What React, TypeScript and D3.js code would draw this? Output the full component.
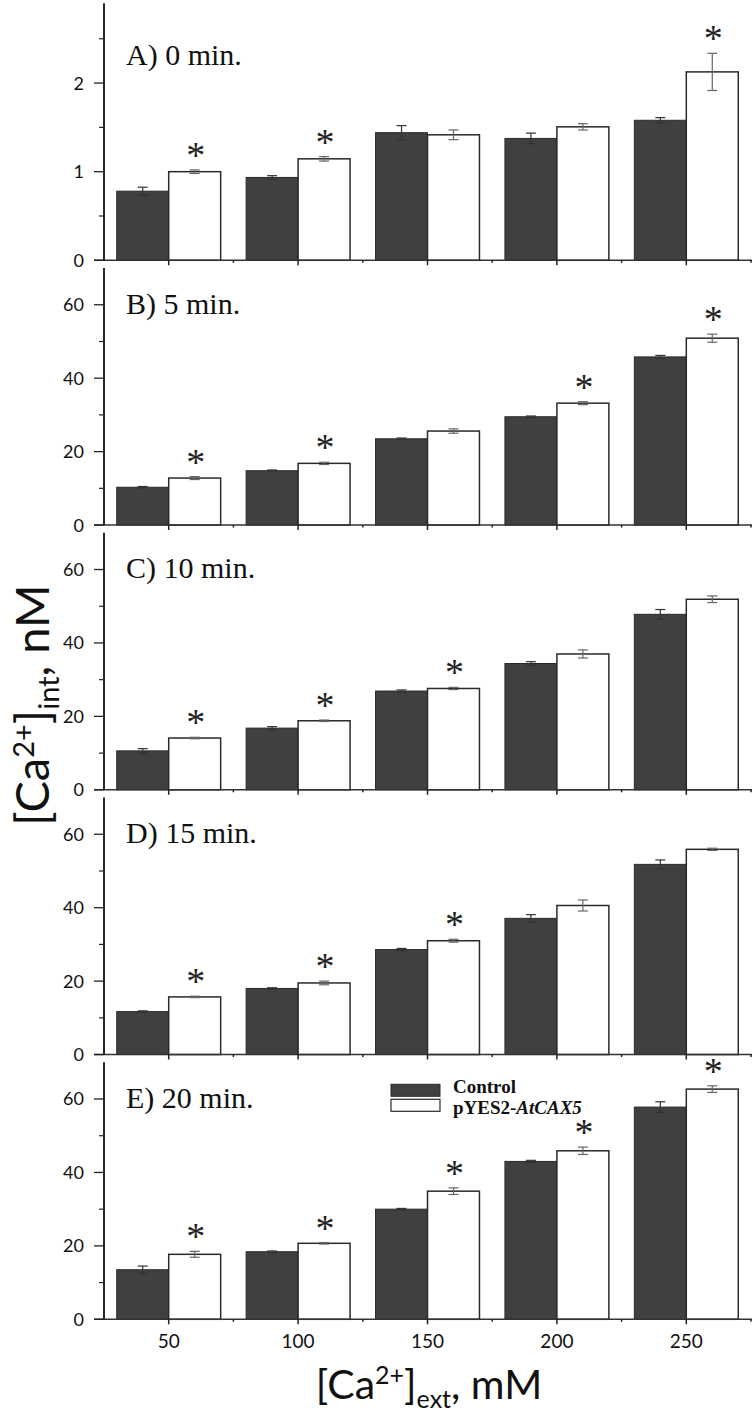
import React from "react";
import * as d3 from "d3";

// ---------- data ----------
const categories = ["50", "100", "150", "200", "250"];
const seriesKeys = ["Control", "pYES2-AtCAX5"];
const panelTitles = ["A) 0 min.", "B) 5 min.", "C) 10 min.", "D) 15 min.", "E) 20 min."];
const panelMax = [2.9, 70, 70, 70, 70];
const majorTicksA = [0, 1, 2];
const minorTicksA = [0.5, 1.5, 2.5];
const majorTicks = [0, 20, 40, 60];
const minorTicks = [10, 30, 50];

const controlA = [0.78, 0.935, 1.44, 1.375, 1.58];
const controlB = [10.3, 14.8, 23.5, 29.5, 45.8];
const controlC = [10.6, 16.8, 26.9, 34.4, 47.8];
const controlD = [11.7, 18.0, 28.6, 37.1, 51.8];
const controlE = [13.5, 18.4, 30.0, 43.0, 57.8];

const caxA = [1.0, 1.145, 1.416, 1.506, 2.126];
const caxB = [12.8, 16.8, 25.6, 33.2, 50.9];
const caxC = [14.1, 18.8, 27.6, 37.0, 51.9];
const caxD = [15.7, 19.5, 31.0, 40.6, 55.9];
const caxE = [17.7, 20.7, 34.9, 45.9, 62.7];

const controlErrA = [0.045, 0.02, 0.08, 0.06, 0.03];
const controlErrB = [0.2, 0.2, 0.2, 0.2, 0.4];
const controlErrC = [0.6, 0.4, 0.3, 0.5, 1.3];
const controlErrD = [0.2, 0.2, 0.3, 1.0, 1.2];
const controlErrE = [1.0, 0.2, 0.2, 0.3, 1.45];

const caxErrA = [0.02, 0.025, 0.055, 0.035, 0.21];
const caxErrB = [0.4, 0.3, 0.6, 0.4, 1.1];
const caxErrC = [0.2, 0.2, 0.3, 1.1, 0.9];
const caxErrD = [0.2, 0.5, 0.4, 1.5, 0.3];
const caxErrE = [0.8, 0.2, 0.9, 1.0, 0.9];

const sigA = [1, 1, 0, 0, 1];
const sigB = [1, 1, 0, 1, 1];
const sigC = [1, 1, 1, 0, 0];
const sigD = [1, 1, 1, 0, 0];
const sigE = [1, 1, 1, 1, 1];

const controls = [controlA, controlB, controlC, controlD, controlE];
const caxs = [caxA, caxB, caxC, caxD, caxE];
const controlErrs = [controlErrA, controlErrB, controlErrC, controlErrD, controlErrE];
const caxErrs = [caxErrA, caxErrB, caxErrC, caxErrD, caxErrE];
const sigs = [sigA, sigB, sigC, sigD, sigE];

// ---------- layout ----------
const W = 756;
const H = 1421;
const axisX = 104;
const axisRight = 751;
const firstBase = 260.3;
const panelStep = 264.75;
const panelH = 257;

const DARK = "#404040";
const SERIF = "'Liberation Serif', 'Times New Roman', serif";
const SANS = "Lato, 'Open Sans', sans-serif";

function Panel({ idx }: { idx: number }) {
  const base = firstBase + idx * panelStep;
  const top = base - panelH;
  const x0 = d3.scaleBand<string>().domain(categories).range([axisX, axisRight]).padding(0);
  const x1 = d3
    .scaleBand<string>()
    .domain(seriesKeys)
    .range([0, x0.bandwidth()])
    .paddingInner(0)
    .paddingOuter(0.245);
  const y = d3.scaleLinear().domain([0, panelMax[idx]]).range([base, top]);
  const major = idx === 0 ? majorTicksA : majorTicks;
  const minor = idx === 0 ? minorTicksA : minorTicks;
  const capW = 10;

  return (
    <g>
      {categories.map((c, i) => {
        const gx = x0(c)!;
        const cv = controls[idx][i];
        const av = caxs[idx][i];
        const ce = controlErrs[idx][i];
        const ae = caxErrs[idx][i];
        const cx = gx + x1("Control")!;
        const ax = gx + x1("pYES2-AtCAX5")!;
        const bw = x1.bandwidth();
        const ccx = cx + bw / 2;
        const acx = ax + bw / 2;
        return (
          <g key={c}>
            <rect x={cx} y={y(cv)} width={bw} height={base - y(cv)} fill={DARK} stroke="#2a2a2a" strokeWidth={1} />
            <rect x={ax} y={y(av)} width={bw} height={base - y(av)} fill="#fff" stroke="#2a2a2a" strokeWidth={1.5} />
            <g stroke="#333" strokeWidth={1.2}>
              <line x1={ccx} x2={ccx} y1={y(cv - ce)} y2={y(cv + ce)} />
              <line x1={ccx - capW / 2} x2={ccx + capW / 2} y1={y(cv + ce)} y2={y(cv + ce)} />
              <line x1={ccx - capW / 2} x2={ccx + capW / 2} y1={y(cv - ce)} y2={y(cv - ce)} />
            </g>
            <g stroke="#666" strokeWidth={1.2}>
              <line x1={acx} x2={acx} y1={y(av - ae)} y2={y(av + ae)} />
              <line x1={acx - capW / 2} x2={acx + capW / 2} y1={y(av + ae)} y2={y(av + ae)} />
              <line x1={acx - capW / 2} x2={acx + capW / 2} y1={y(av - ae)} y2={y(av - ae)} />
            </g>
            {sigs[idx][i] ? (
              <text
                x={acx + 1}
                y={y(av + ae) - 19 + 17}
                textAnchor="middle"
                fontFamily={SERIF}
                fontSize={38}
                fill="#222"
              >
                *
              </text>
            ) : null}
          </g>
        );
      })}
      {/* x axis */}
      <line x1={axisX - 10} x2={axisRight + 1} y1={base} y2={base} stroke="#333" strokeWidth={1.5} />
      {categories.map((c) => {
        const cx = x0(c)! + x0.bandwidth() / 2;
        return <line key={"mt" + c} x1={cx} x2={cx} y1={base} y2={base + 5} stroke="#222" strokeWidth={1.5} />;
      })}
      {categories.map((c) => {
        const ex = x0(c)! + x0.bandwidth();
        return <line key={"nt" + c} x1={ex} x2={ex} y1={base} y2={base + 2.5} stroke="#222" strokeWidth={1.5} />;
      })}
      {/* y axis */}
      <line x1={axisX} x2={axisX} y1={top} y2={base} stroke="#111" strokeWidth={1.8} />
      {major.map((t) => (
        <g key={"yt" + t}>
          <line x1={axisX - 10} x2={axisX} y1={y(t)} y2={y(t)} stroke="#222" strokeWidth={1.3} />
          <text
            x={84}
            y={y(t)}
            dy="0.36em"
            textAnchor="end"
            fontFamily={SANS}
            fontSize={18}
            fill="#111"
          >
            {t}
          </text>
        </g>
      ))}
      {minor.map((t) => (
        <line key={"ym" + t} x1={axisX - 5} x2={axisX} y1={y(t)} y2={y(t)} stroke="#222" strokeWidth={1.2} />
      ))}
      {/* panel title */}
      <text x={126} y={top + (idx === 0 ? 62 : 45.5)} fontFamily={SERIF} fontSize={30} fill="#111">
        {panelTitles[idx]}
      </text>
      {idx === 4
        ? categories.map((c) => (
            <text
              key={"xl" + c}
              x={x0(c)! + x0.bandwidth() / 2}
              y={base + 29}
              textAnchor="middle"
              fontFamily={SANS}
              fontSize={19}
              fill="#111"
            >
              {c}
            </text>
          ))
        : null}
    </g>
  );
}

export default function App() {
  const eBase = firstBase + 4 * panelStep;
  const legendY = eBase - 235;
  return (
    <div style={{ position: "absolute", left: 0, top: 0 }}>
      <svg width={W} height={H} style={{ display: "block", background: "#fff" }}>
        {panelTitles.map((_, i) => (
          <Panel key={i} idx={i} />
        ))}
        {/* legend */}
        <rect x={391} y={legendY} width={49} height={12} fill={DARK} stroke="#2a2a2a" strokeWidth={1} />
        <rect x={391} y={legendY + 15} width={49} height={12} fill="#fff" stroke="#2a2a2a" strokeWidth={1.2} />
        <text x={453} y={legendY + 9} fontFamily={SERIF} fontWeight="bold" fontSize={19} fill="#111">
          {seriesKeys[0]}
        </text>
        <text x={453} y={legendY + 30} fontFamily={SERIF} fontWeight="bold" fontSize={19} fill="#111">
          pYES2-<tspan fontStyle="italic">AtCAX5</tspan>
        </text>
        {/* y axis title */}
        <text
          transform="translate(49,705) rotate(-90)"
          textAnchor="middle"
          fontFamily={SANS}
          fontSize={47}
          fill="#111"
        >
          [Ca
          <tspan dy={-15} fontSize={29}>2+</tspan>
          <tspan dy={15}>]</tspan>
          <tspan dy={10} fontSize={29}>int</tspan>
          <tspan dy={-10}>, nM</tspan>
        </text>
        {/* x axis title */}
        <text x={429} y={1399} textAnchor="middle" fontFamily={SANS} fontSize={41} fill="#111">
          [Ca
          <tspan dy={-15} fontSize={25}>2+</tspan>
          <tspan dy={15}>]</tspan>
          <tspan dy={9} fontSize={25}>ext</tspan>
          <tspan dy={-9}>, mM</tspan>
        </text>
      </svg>
    </div>
  );
}
